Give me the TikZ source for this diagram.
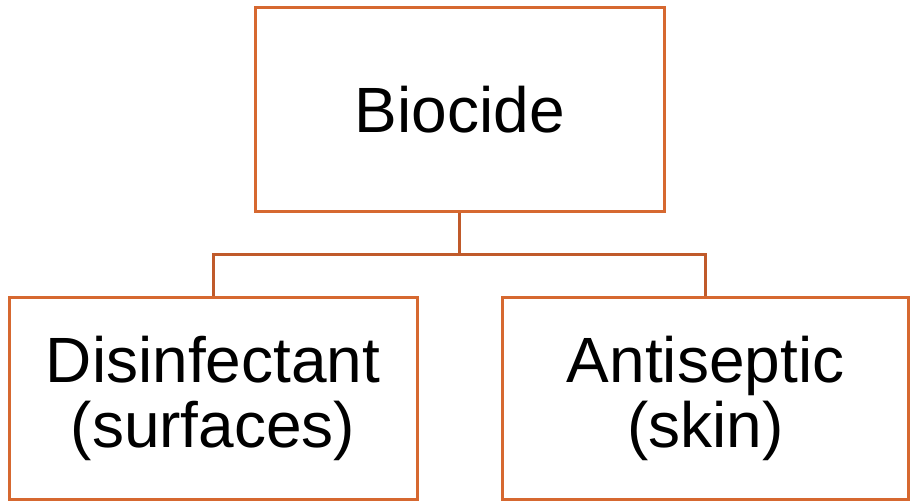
\documentclass[tikz,border=0pt]{standalone}
\usepackage{fontspec}
\setmainfont{Liberation Sans}
\usetikzlibrary{positioning}

\definecolor{boxline}{RGB}{214,104,48}
\definecolor{linkline}{RGB}{192,90,42}

\begin{document}
\begin{tikzpicture}[
	x=1pt, y=-1pt,
	catbox/.style={rectangle, draw=boxline, line width=3pt, inner sep=0pt, align=center,
		font=\fontsize{64}{65}\selectfont},
	link/.style={draw=linkline, line width=3pt},
]
	\useasboundingbox (0,0) rectangle (910,501);

	% Top box
	\node[catbox, minimum width=408.5pt, minimum height=204pt] (biocide) at (459.75,109.5) {Biocide};

	% Bottom boxes
	\node[catbox, minimum width=408pt, minimum height=202pt] (disinf) at (213,398) {Disinfectant\\(surfaces)};
	\node[catbox, minimum width=406pt, minimum height=202pt] (antisep) at (705.5,398) {Antiseptic\\(skin)};

	% Branch lines
	\coordinate (fork) at (459.75,254.5);
	\draw[link] (biocide.south) -- (fork);
	\draw[link] (fork) -| (disinf.north);
	\draw[link] (fork) -| (antisep.north);
\end{tikzpicture}
\end{document}
